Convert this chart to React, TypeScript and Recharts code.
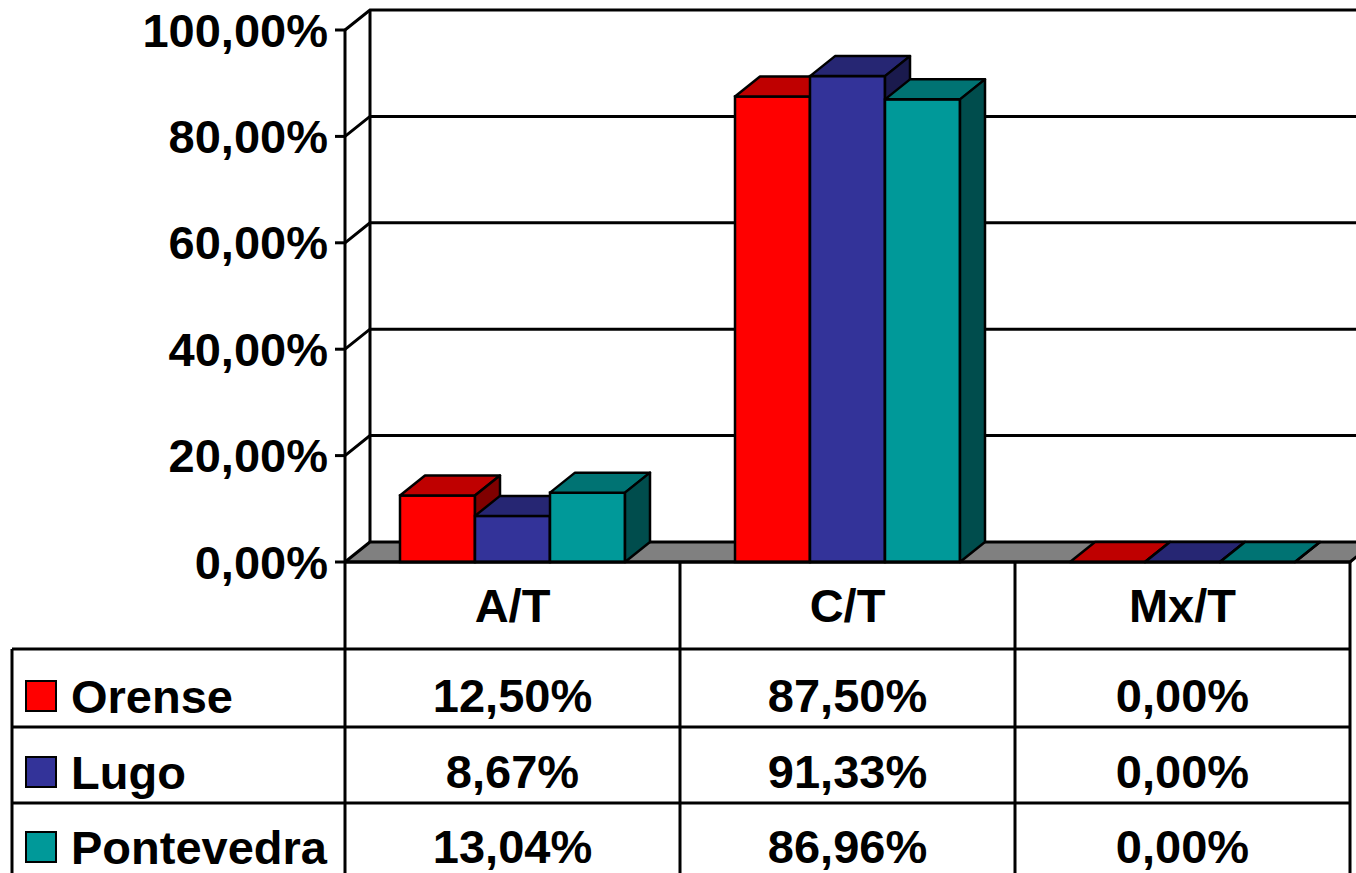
import { Bar, BarChart, CartesianGrid, XAxis, YAxis } from "recharts"

const categories = ["A/T", "C/T", "Mx/T"]
const seriesNames = ["Orense", "Lugo", "Pontevedra"]
const orense = [0.125, 0.875, 0]
const lugo = [0.0867, 0.9133, 0]
const pontevedra = [0.1304, 0.8696, 0]
const yTicks = [0, 0.2, 0.4, 0.6, 0.8, 1]

const seriesValues = [orense, lugo, pontevedra]
const keys = ["orense", "lugo", "pontevedra"]

// front, top, side
const palette = [
  ["#ff0000", "#bf0000", "#800000"],
  ["#333399", "#262673", "#1a1a4d"],
  ["#009999", "#007373", "#004d4d"],
]

const data = categories.map((name, i) => ({
  name,
  orense: orense[i],
  lugo: lugo[i],
  pontevedra: pontevedra[i],
}))

const DX = 25
const DY = 20
const FONT = "'Liberation Sans', Arial, sans-serif"
const FS = 47
const TABLE_TOP = 562
const ROW_LINES = [649, 727, 803]
const HEADER_BASE = 622
const ROW_BASES = [712, 788, 863]
const BOTTOM = 873
const SW = 2.5
const LW = 3

const pct = (v: number) => `${(v * 100).toFixed(2).replace(".", ",")}%`

const makeShape = (colors: string[]) => (props: any) => {
  const { x, y, width, height } = props
  const [front, top, side] = colors
  return (
    <g>
      <rect x={x} y={y} width={width} height={height} fill={front} stroke="#000" strokeWidth={SW} />
      <polygon
        points={`${x},${y} ${x + DX},${y - DY} ${x + width + DX},${y - DY} ${x + width},${y}`}
        fill={top}
        stroke="#000"
        strokeWidth={SW}
        strokeLinejoin="round"
      />
      <polygon
        points={`${x + width},${y} ${x + width + DX},${y - DY} ${x + width + DX},${y + height - DY} ${x + width},${y + height}`}
        fill={side}
        stroke="#000"
        strokeWidth={SW}
        strokeLinejoin="round"
      />
    </g>
  )
}

const gridLine = (p: any) => {
  const { x1, y1, x2, y, height } = p
  const isFloor = Math.abs(y1 - (y + height)) < 1
  const isTop = Math.abs(y1 - y) < 1
  if (isFloor) {
    return (
      <polygon
        key={p.key}
        points={`${x1},${y1} ${x2},${y1} ${x2 + DX},${y1 - DY} ${x1 + DX},${y1 - DY}`}
        fill="#808080"
        stroke="#000"
        strokeWidth={LW}
        strokeLinejoin="round"
      />
    )
  }
  return (
    <g key={p.key}>
      <path d={`M${x1},${y1} L${x1 + DX},${y1 - DY} L${x2 + DX},${y1 - DY}`} fill="none" stroke="#000" strokeWidth={LW} />
      {isTop && <line x1={x1 + DX} y1={y1 - DY} x2={x1 + DX} y2={y + height - DY} stroke="#000" strokeWidth={LW} />}
    </g>
  )
}

const TableColumn = (props: any) => {
  const { x, index, payload, width, visibleTicksCount } = props
  const half = width / visibleTicksCount / 2
  const left = x - half
  const right = x + half
  const textStyle = { fontFamily: FONT, fontWeight: 700, fontSize: FS, fill: "#000" }
  return (
    <g>
      {index === 0 && (
        <g>
          <line x1={left} y1={TABLE_TOP} x2={left} y2={BOTTOM} stroke="#000" strokeWidth={LW} />
          <line x1={12} y1={ROW_LINES[0]} x2={12} y2={BOTTOM} stroke="#000" strokeWidth={LW} />
          {ROW_LINES.map((ly) => (
            <line key={ly} x1={12} y1={ly} x2={left} y2={ly} stroke="#000" strokeWidth={LW} />
          ))}
          {seriesNames.map((s, i) => (
            <g key={s}>
              <rect x={26} y={ROW_BASES[i] - 31} width={30} height={30} fill={palette[i][0]} stroke="#000" strokeWidth={2} />
              <text x={71} y={ROW_BASES[i] + 1} {...textStyle}>
                {s}
              </text>
            </g>
          ))}
        </g>
      )}
      <line x1={right} y1={TABLE_TOP} x2={right} y2={BOTTOM} stroke="#000" strokeWidth={LW} />
      {ROW_LINES.map((ly) => (
        <line key={ly} x1={left} y1={ly} x2={right} y2={ly} stroke="#000" strokeWidth={LW} />
      ))}
      <text x={x} y={HEADER_BASE} textAnchor="middle" {...textStyle}>
        {payload.value}
      </text>
      {seriesValues.map((vals, i) => (
        <text key={i} x={x} y={ROW_BASES[i]} textAnchor="middle" {...textStyle}>
          {pct(vals[index])}
        </text>
      ))}
    </g>
  )
}

export default function App() {
  return (
    <div style={{ position: "absolute", left: 0, top: 0, background: "#fff" }}>
      <BarChart
        width={1356}
        height={873}
        data={data}
        margin={{ top: 30, right: 6, bottom: 0, left: 0 }}
        barCategoryGap={55}
        barGap={0}
      >
        <CartesianGrid vertical={false} horizontal={gridLine} />
        <YAxis
          width={345}
          domain={[0, 1]}
          ticks={yTicks}
          tickFormatter={pct}
          tickSize={10}
          tickMargin={7}
          stroke="#000"
          strokeWidth={LW}
          tick={{ fontFamily: FONT, fontWeight: 700, fontSize: FS, fill: "#000" }}
        />
        <XAxis
          dataKey="name"
          height={311}
          tickLine={false}
          stroke="#000"
          strokeWidth={LW}
          interval={0}
          tick={<TableColumn />}
        />
        {keys.map((k, i) => (
          <Bar key={k} dataKey={k} isAnimationActive={false} shape={makeShape(palette[i])} />
        ))}
      </BarChart>
    </div>
  )
}
